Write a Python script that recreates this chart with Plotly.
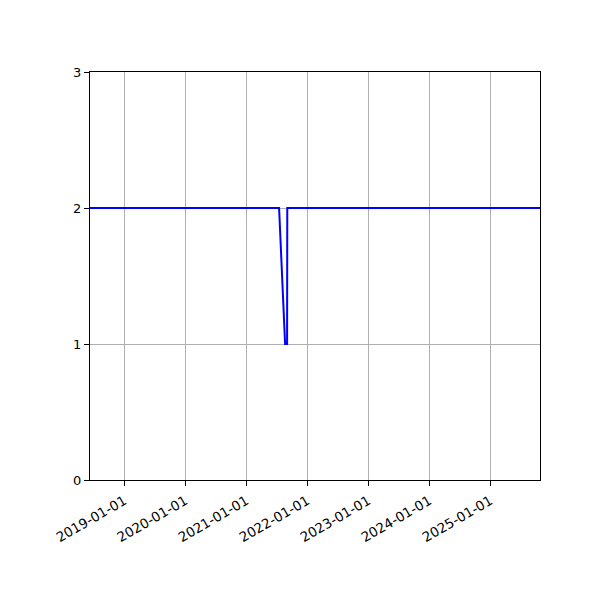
import plotly.graph_objects as go

# Series: flat at 2 with one short dip to 1 in 2021
dates = ["2018-06-10", "2021-07-16", "2021-08-21", "2021-09-02", "2021-09-03", "2025-10-25"]
values = [2, 2, 1, 1, 2, 2]

tick_dates = ["2019-01-01", "2020-01-01", "2021-01-01", "2022-01-01",
              "2023-01-01", "2024-01-01", "2025-01-01"]
y_ticks = [0, 1, 2, 3]

fig = go.Figure()
fig.add_trace(
    go.Scatter(x=dates, y=values, mode="lines", line=dict(color="blue", width=2))
)

axis_style = dict(
    showline=True,
    linecolor="black",
    linewidth=1,
    mirror=True,
    ticks="outside",
    ticklen=5,
    tickwidth=1,
    tickcolor="black",
    showgrid=True,
    gridcolor="#b0b0b0",
    gridwidth=1,
    zeroline=False,
)

fig.update_xaxes(
    type="date",
    range=[dates[0], dates[-1]],
    tickvals=tick_dates,
    ticktext=tick_dates,
    tickangle=-30,
    tickfont=dict(size=13.5),
    ticklabelstandoff=2,
    **axis_style,
)
fig.update_yaxes(range=[0, 3], tickvals=y_ticks, **axis_style)

# page body adds ~8px offset, so margins are shifted to land the axes box
fig.update_layout(
    width=600,
    height=600,
    margin=dict(l=82, r=68, t=64, b=128),
    plot_bgcolor="white",
    paper_bgcolor="white",
    showlegend=False,
    font=dict(family="DejaVu Sans", size=13, color="black"),
)

fig.write_html("out.html")
